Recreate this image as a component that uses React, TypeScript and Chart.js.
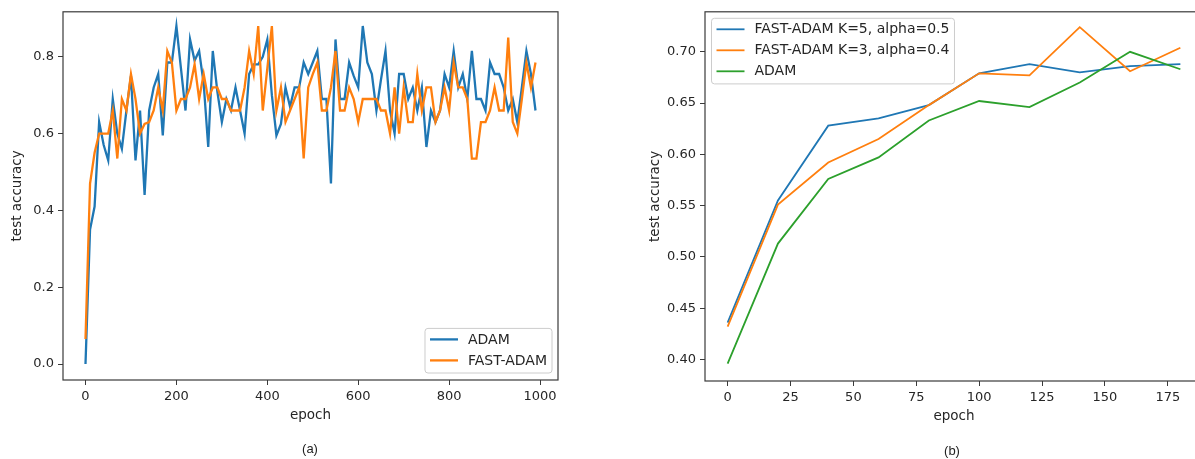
import React, { useEffect, useRef } from "react";
import { Chart, registerables } from "chart.js";

Chart.register(...registerables);

// ---------- Data: panel (a) ----------
const epochsA = [
  0, 10, 20, 30, 40, 50, 60, 70, 80, 90,
  100, 110, 120, 130, 140, 150, 160, 170, 180, 190,
  200, 210, 220, 230, 240, 250, 260, 270, 280, 290,
  300, 310, 320, 330, 340, 350, 360, 370, 380, 390,
  400, 410, 420, 430, 440, 450, 460, 470, 480, 490,
  500, 510, 520, 530, 540, 550, 560, 570, 580, 590,
  600, 610, 620, 630, 640, 650, 660, 670, 680, 690,
  700, 710, 720, 730, 740, 750, 760, 770, 780, 790,
  800, 810, 820, 830, 840, 850, 860, 870, 880, 890,
  900, 910, 920, 930, 940, 950, 960, 970, 980, 990,
];

const adamA = [
  0.0, 0.35, 0.41, 0.63, 0.57, 0.53, 0.69, 0.6, 0.56, 0.66,
  0.75, 0.53, 0.66, 0.44, 0.66, 0.72, 0.755, 0.595, 0.785, 0.785,
  0.88, 0.77, 0.66, 0.845, 0.79, 0.815, 0.73, 0.565, 0.815, 0.71,
  0.63, 0.69, 0.66, 0.72, 0.66, 0.6, 0.755, 0.78, 0.78, 0.8,
  0.845, 0.7, 0.595, 0.625, 0.72, 0.67, 0.72, 0.72, 0.785, 0.755,
  0.785, 0.815, 0.69, 0.69, 0.47, 0.845, 0.69, 0.69, 0.785, 0.75,
  0.72, 0.88, 0.785, 0.755, 0.66, 0.74, 0.815, 0.66, 0.6, 0.755,
  0.755, 0.69, 0.72, 0.66, 0.72, 0.565, 0.66, 0.63, 0.66, 0.755,
  0.72, 0.815, 0.72, 0.755, 0.69, 0.815, 0.69, 0.69, 0.66, 0.785,
  0.755, 0.755, 0.72, 0.66, 0.69, 0.63, 0.72, 0.815, 0.755, 0.66,
];

const fastAdamA = [
  0.065, 0.47, 0.55, 0.6, 0.6, 0.6, 0.66, 0.535, 0.69, 0.66,
  0.755, 0.69, 0.6, 0.625, 0.63, 0.66, 0.72, 0.66, 0.815, 0.785,
  0.66, 0.69, 0.69, 0.72, 0.78, 0.69, 0.755, 0.69, 0.72, 0.72,
  0.69, 0.69, 0.66, 0.66, 0.66, 0.72, 0.815, 0.755, 0.88, 0.66,
  0.77, 0.88, 0.66, 0.72, 0.63, 0.66, 0.69, 0.72, 0.535, 0.72,
  0.755, 0.785, 0.66, 0.66, 0.72, 0.815, 0.66, 0.66, 0.72, 0.69,
  0.63, 0.69, 0.69, 0.69, 0.69, 0.66, 0.66, 0.6, 0.72, 0.6,
  0.72, 0.63, 0.63, 0.755, 0.66, 0.72, 0.72, 0.63, 0.66, 0.72,
  0.66, 0.785, 0.72, 0.72, 0.69, 0.535, 0.535, 0.63, 0.63, 0.66,
  0.72, 0.66, 0.66, 0.85, 0.63, 0.6, 0.69, 0.785, 0.72, 0.785,
];

const xTicksA = [0, 200, 400, 600, 800, 1000];
const yTicksA = [0.0, 0.2, 0.4, 0.6, 0.8];

// ---------- Data: panel (b) ----------
const epochsB = [0, 20, 40, 60, 80, 100, 120, 140, 160, 180];
const fastK5 = [0.436, 0.555, 0.628, 0.635, 0.648, 0.679, 0.688, 0.68, 0.686, 0.688];
const fastK3 = [0.432, 0.551, 0.592, 0.615, 0.648, 0.679, 0.677, 0.724, 0.681, 0.704];
const adamB = [0.396, 0.513, 0.576, 0.597, 0.633, 0.652, 0.646, 0.67, 0.7, 0.683];

const xTicksB = [0, 25, 50, 75, 100, 125, 150, 175];
const yTicksB = [0.4, 0.45, 0.5, 0.55, 0.6, 0.65, 0.7];

const BLUE = "#1f77b4";
const ORANGE = "#ff7f0e";
const GREEN = "#2ca02c";
const TEXT = "#262626";
const SPINE = "#3a3a3a";
const FONT = "DejaVu Sans";

const framePlugin = {
  id: "mplFrame",
  afterDatasetsDraw(chart: any) {
    const { ctx, chartArea } = chart;
    ctx.save();
    ctx.strokeStyle = SPINE;
    ctx.lineWidth = 1.2;
    ctx.strokeRect(chartArea.left, chartArea.top, chartArea.right - chartArea.left, chartArea.bottom - chartArea.top);
    ctx.restore();
  },
};

const legendPlugin = {
  id: "mplLegend",
  afterDraw(chart: any, _args: any, opts: any) {
    if (!opts || !opts.corner) return;
    const { ctx, chartArea } = chart;
    const fs = 14;
    ctx.save();
    ctx.font = `${fs}px "${FONT}"`;
    const items = chart.data.datasets.map((d: any) => ({ label: d.label, color: d.borderColor }));
    const textW = Math.max(...items.map((i: any) => ctx.measureText(i.label).width));
    const pad = 5;
    const handle = 28;
    const gap = 10;
    const rowH = 21;
    const w = pad + handle + gap + textW + pad;
    const h = 11 + (items.length - 1) * rowH + 12.6;
    let x: number, y: number;
    if (opts.corner === "lr") {
      x = chartArea.right - 6 - w;
      y = chartArea.bottom - 7 - h;
    } else {
      x = chartArea.left + 6.5;
      y = chartArea.top + 6.5;
    }
    const r = 3;
    ctx.beginPath();
    ctx.moveTo(x + r, y);
    ctx.lineTo(x + w - r, y);
    ctx.arcTo(x + w, y, x + w, y + r, r);
    ctx.lineTo(x + w, y + h - r);
    ctx.arcTo(x + w, y + h, x + w - r, y + h, r);
    ctx.lineTo(x + r, y + h);
    ctx.arcTo(x, y + h, x, y + h - r, r);
    ctx.lineTo(x, y + r);
    ctx.arcTo(x, y, x + r, y, r);
    ctx.closePath();
    ctx.fillStyle = "rgba(255,255,255,0.8)";
    ctx.fill();
    ctx.strokeStyle = "#cccccc";
    ctx.lineWidth = 1;
    ctx.stroke();
    items.forEach((it: any, i: number) => {
      const cy = y + 11 + i * rowH;
      ctx.beginPath();
      ctx.moveTo(x + pad, cy);
      ctx.lineTo(x + pad + handle, cy);
      ctx.strokeStyle = it.color;
      ctx.lineWidth = opts.lw || 2;
      ctx.stroke();
      ctx.fillStyle = TEXT;
      ctx.textBaseline = "middle";
      ctx.textAlign = "left";
      ctx.fillText(it.label, x + pad + handle + gap, cy + 0.5);
    });
    ctx.restore();
  },
};

function axisCommon(ticksArr: number[], fmt: (v: number) => string) {
  return {
    type: "linear" as const,
    afterBuildTicks: (s: any) => {
      s.ticks = ticksArr.map((v) => ({ value: v }));
    },
    grid: {
      display: true,
      drawOnChartArea: false,
      drawTicks: true,
      tickLength: 5,
      color: SPINE,
      lineWidth: 1,
    },
    border: { display: false },
    ticks: {
      autoSkip: false,
      maxRotation: 0,
      minRotation: 0,
      padding: 4,
      color: TEXT,
      font: { family: FONT, size: 13 },
      callback: (v: any) => fmt(Number(v)),
    },
  };
}

function buildConfig(opts: {
  datasets: any[];
  xMin: number;
  xMax: number;
  yMin: number;
  yMax: number;
  xTicks: number[];
  yTicks: number[];
  yFmt: (v: number) => string;
  yWidth: number;
  yTitlePad: number;
  xHeight: number;
  padding: any;
  corner: string;
  lw: number;
}) {
  return {
    type: "line" as const,
    data: { datasets: opts.datasets },
    plugins: [framePlugin, legendPlugin],
    options: {
      responsive: false,
      maintainAspectRatio: false,
      animation: false as const,
      events: [],
      layout: { padding: opts.padding },
      elements: { point: { radius: 0 }, line: { tension: 0 } },
      plugins: {
        legend: { display: false },
        tooltip: { enabled: false },
        mplLegend: { corner: opts.corner, lw: opts.lw },
      },
      scales: {
        x: {
          ...axisCommon(opts.xTicks, (v) => String(v)),
          min: opts.xMin,
          max: opts.xMax,
          afterFit: (s: any) => {
            s.height = opts.xHeight;
          },
          title: {
            display: true,
            text: "epoch",
            color: TEXT,
            font: { family: FONT, size: 13.5 },
            padding: { top: 0, bottom: 0 },
          },
        },
        y: {
          ...axisCommon(opts.yTicks, opts.yFmt),
          min: opts.yMin,
          max: opts.yMax,
          afterFit: (s: any) => {
            s.width = opts.yWidth;
          },
          title: {
            display: true,
            text: "test accuracy",
            color: TEXT,
            font: { family: FONT, size: 13.5 },
            padding: { top: opts.yTitlePad, bottom: 0 },
          },
        },
      },
    },
  };
}

export default function App() {
  const leftRef = useRef<HTMLCanvasElement>(null);
  const rightRef = useRef<HTMLCanvasElement>(null);

  useEffect(() => {
    const lwA = 2.3;
    const left = new Chart(
      leftRef.current as HTMLCanvasElement,
      buildConfig({
        datasets: [
          {
            label: "ADAM",
            data: epochsA.map((e, i) => ({ x: e, y: adamA[i] })),
            borderColor: BLUE,
            backgroundColor: BLUE,
            borderWidth: lwA,
            order: 1,
            fill: false,
          },
          {
            label: "FAST-ADAM",
            data: epochsA.map((e, i) => ({ x: e, y: fastAdamA[i] })),
            borderColor: ORANGE,
            backgroundColor: ORANGE,
            borderWidth: lwA,
            order: 0,
            fill: false,
          },
        ],
        xMin: -49.5,
        xMax: 1039.5,
        yMin: -0.0416,
        yMax: 0.917,
        xTicks: xTicksA,
        yTicks: yTicksA,
        yFmt: (v) => v.toFixed(1),
        yWidth: 63,
        yTitlePad: 8.9,
        xHeight: 43.1,
        padding: { left: 0, top: 11, right: 42, bottom: 35.9 },
        corner: "lr",
        lw: lwA,
      }) as any
    );

    const lwB = 1.8;
    const right = new Chart(
      rightRef.current as HTMLCanvasElement,
      buildConfig({
        datasets: [
          {
            label: "FAST-ADAM K=5, alpha=0.5",
            data: epochsB.map((e, i) => ({ x: e, y: fastK5[i] })),
            borderColor: BLUE,
            backgroundColor: BLUE,
            borderWidth: lwB,
            order: 2,
            fill: false,
          },
          {
            label: "FAST-ADAM K=3, alpha=0.4",
            data: epochsB.map((e, i) => ({ x: e, y: fastK3[i] })),
            borderColor: ORANGE,
            backgroundColor: ORANGE,
            borderWidth: lwB,
            order: 1,
            fill: false,
          },
          {
            label: "ADAM",
            data: epochsB.map((e, i) => ({ x: e, y: adamB[i] })),
            borderColor: GREEN,
            backgroundColor: GREEN,
            borderWidth: lwB,
            order: 0,
            fill: false,
          },
        ],
        xMin: -9,
        xMax: 189,
        yMin: 0.379,
        yMax: 0.739,
        xTicks: xTicksB,
        yTicks: yTicksB,
        yFmt: (v) => v.toFixed(2),
        yWidth: 105,
        yTitlePad: 46.9,
        xHeight: 43.1,
        padding: { left: 0, top: 10, right: 17, bottom: 34.9 },
        corner: "ul",
        lw: lwB,
      }) as any
    );

    return () => {
      left.destroy();
      right.destroy();
    };
  }, []);

  const caption: React.CSSProperties = {
    position: "absolute",
    fontFamily: '"Liberation Sans", Arial, sans-serif',
    fontSize: 13,
    color: "#222",
    transform: "translateX(-50%)",
    whiteSpace: "nowrap",
  };

  return (
    <div
      style={{
        position: "fixed",
        left: 0,
        top: 0,
        width: 1195,
        height: 459,
        overflow: "hidden",
        background: "#ffffff",
      }}
    >
      <div style={{ position: "absolute", left: 0, top: 0, width: 600, height: 459 }}>
        <canvas ref={leftRef} width={600} height={459} style={{ display: "block" }} />
      </div>
      <div style={{ position: "absolute", left: 600, top: 0, width: 620, height: 459 }}>
        <canvas ref={rightRef} width={620} height={459} style={{ display: "block" }} />
      </div>
      <div style={{ ...caption, left: 310, top: 441 }}>(a)</div>
      <div style={{ ...caption, left: 952, top: 443 }}>(b)</div>
    </div>
  );
}
